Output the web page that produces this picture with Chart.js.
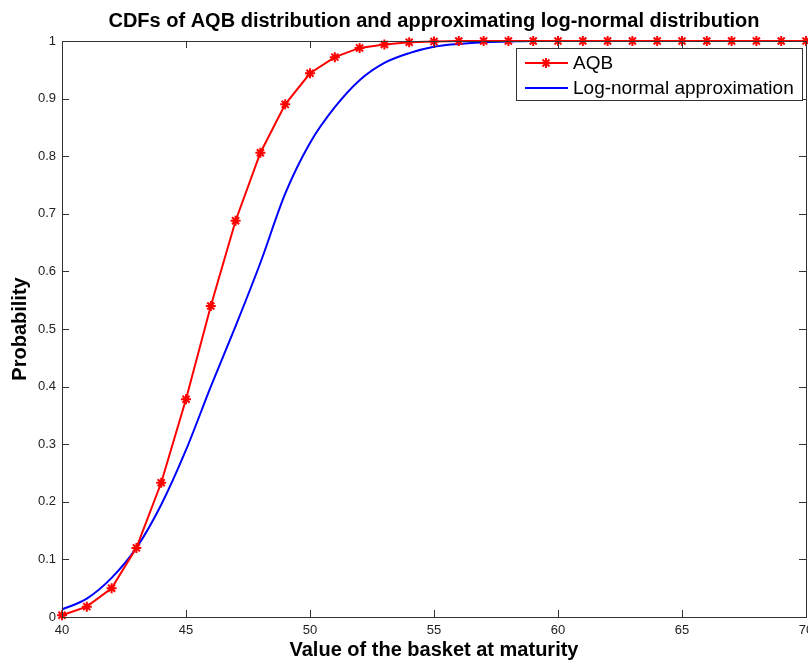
<!DOCTYPE html>
<html>
<head>
<meta charset="utf-8">
<script src="https://cdn.jsdelivr.net/npm/chart.js@4.4.1/dist/chart.umd.min.js"></script>
<style>
  html, body { margin: 0; padding: 0; background: #fff; }
  #wrap { width: 808px; height: 662px; }
</style>
</head>
<body>
<div id="wrap"><canvas id="cdfChart" width="808" height="662"></canvas></div>
<script>
// basket values at maturity (x)
const basketValues = [40, 41, 42, 43, 44, 45, 46, 47, 48, 49, 50, 51, 52, 53, 54, 55,
    56, 57, 58, 59, 60, 61, 62, 63, 64, 65, 66, 67, 68, 69, 70];

// AQB cdf
const aqbCdf = [0.003, 0.018, 0.05, 0.12, 0.233, 0.378, 0.54, 0.688, 0.806, 0.89, 0.944,
    0.972, 0.988, 0.994, 0.998, 0.999, 1, 1, 1, 1, 1, 1, 1, 1, 1, 1, 1, 1, 1, 1, 1];

// log-normal approximation cdf
const logNormalCdf = [0.013, 0.032, 0.068, 0.12, 0.195, 0.29, 0.4, 0.505, 0.615, 0.735, 0.823,
    0.885, 0.932, 0.962, 0.979, 0.99, 0.995, 0.998, 0.999, 1, 1, 1, 1, 1, 1, 1, 1, 1, 1, 1, 1];

const xTicks = [40, 45, 50, 55, 60, 65, 70];
const yTicks = [0, 0.1, 0.2, 0.3, 0.4, 0.5, 0.6, 0.7, 0.8, 0.9, 1];

const axisColor = '#333333';
const fontFamily = 'Liberation Sans, Arial, sans-serif';
const labelFont = { family: fontFamily, size: 13 };

function toPoints(values) {
    return basketValues.map((x, i) => ({ x: x, y: values[i] }));
}

// MATLAB style box with inward ticks
const boxPlugin = {
    id: 'boxPlugin',
    afterDraw(chart) {
        const ctx = chart.ctx;
        const area = chart.chartArea;
        const xs = chart.scales.x;
        const ys = chart.scales.y;
        ctx.save();
        ctx.strokeStyle = axisColor;
        ctx.lineWidth = 1;
        ctx.beginPath();
        xTicks.forEach(v => {
            const px = Math.round(xs.getPixelForValue(v)) + 0.5;
            ctx.moveTo(px, area.bottom); ctx.lineTo(px, area.bottom - 7);
            ctx.moveTo(px, area.top); ctx.lineTo(px, area.top + 7);
        });
        yTicks.forEach(v => {
            const py = Math.round(ys.getPixelForValue(v)) + 0.5;
            ctx.moveTo(area.left, py); ctx.lineTo(area.left + 7, py);
            ctx.moveTo(area.right, py); ctx.lineTo(area.right - 7, py);
        });
        ctx.stroke();
        ctx.strokeRect(Math.round(area.left) + 0.5, Math.round(area.top) + 0.5,
            Math.round(area.right - area.left), Math.round(area.bottom - area.top));
        ctx.restore();
    }
};

// legend box in the top right corner of the plot
const legendBoxPlugin = {
    id: 'legendBox',
    afterDraw(chart) {
        const ctx = chart.ctx;
        const area = chart.chartArea;
        const w = 286, h = 52;
        const x0 = Math.round(area.right) - w - 4;
        const y0 = Math.round(area.top) + 7;
        ctx.save();
        ctx.fillStyle = '#fff';
        ctx.fillRect(x0, y0, w, h);
        ctx.strokeStyle = axisColor;
        ctx.lineWidth = 1;
        ctx.strokeRect(x0 + 0.5, y0 + 0.5, w, h);
        ctx.font = '19px ' + fontFamily;
        ctx.textBaseline = 'middle';
        chart.data.datasets.forEach((ds, i) => {
            const cy = y0 + 15 + i * 25;
            ctx.strokeStyle = ds.borderColor;
            ctx.lineWidth = 2;
            ctx.beginPath();
            ctx.moveTo(x0 + 9, cy);
            ctx.lineTo(x0 + 52, cy);
            ctx.stroke();
            if (ds.pointRadius > 0) {
                ctx.beginPath();
                const cx = x0 + 30;
                for (let k = 0; k < 4; k++) {
                    const a = k * Math.PI / 4;
                    ctx.moveTo(cx - 5 * Math.cos(a), cy - 5 * Math.sin(a));
                    ctx.lineTo(cx + 5 * Math.cos(a), cy + 5 * Math.sin(a));
                }
                ctx.stroke();
            }
            ctx.fillStyle = '#000';
            ctx.fillText(ds.label, x0 + 57, cy + 1);
        });
        ctx.restore();
    }
};

new Chart(document.getElementById('cdfChart'), {
    type: 'line',
    data: {
        datasets: [
            {
                label: 'AQB',
                data: toPoints(aqbCdf),
                borderColor: '#ff0000',
                backgroundColor: '#ff0000',
                borderWidth: 2,
                pointStyle: 'star',
                pointRadius: 5,
                pointBorderWidth: 2,
                order: 0
            },
            {
                label: 'Log-normal approximation',
                data: toPoints(logNormalCdf),
                borderColor: '#0000ff',
                backgroundColor: '#0000ff',
                borderWidth: 2,
                pointRadius: 0,
                cubicInterpolationMode: 'monotone',
                order: 1
            }
        ]
    },
    options: {
        responsive: false,
        animation: false,
        clip: false,
        layout: { autoPadding: false, padding: { right: 2 } },
        plugins: {
            legend: { display: false },
            tooltip: { enabled: false },
            title: {
                display: true,
                fullSize: false,
                text: 'CDFs of AQB distribution and approximating log-normal distribution',
                color: '#000',
                font: { family: fontFamily, size: 20, weight: 'bold' },
                padding: { top: 9, bottom: 8 }
            }
        },
        scales: {
            x: {
                type: 'linear',
                min: 40,
                max: 70,
                afterBuildTicks: axis => { axis.ticks = xTicks.map(v => ({ value: v })); },
                afterFit: axis => {
                    axis.height = 45;
                    axis.paddingLeft = 0;
                    axis.paddingRight = 0;
                },
                grid: { drawOnChartArea: false, drawTicks: false },
                border: { display: false },
                ticks: { color: '#222', font: labelFont, padding: 6, maxRotation: 0 },
                title: {
                    display: true,
                    text: 'Value of the basket at maturity',
                    color: '#000',
                    font: { family: fontFamily, size: 20, weight: 'bold' },
                    padding: { top: 0, bottom: 0 }
                }
            },
            y: {
                min: 0,
                max: 1,
                afterBuildTicks: axis => { axis.ticks = yTicks.map(v => ({ value: v })); },
                afterFit: axis => {
                    axis.width = 62;
                    axis.paddingTop = 0;
                    axis.paddingBottom = 0;
                },
                grid: { drawOnChartArea: false, drawTicks: false },
                border: { display: false },
                ticks: {
                    color: '#222',
                    font: labelFont,
                    padding: 6,
                    callback: v => String(+v.toFixed(1))
                },
                title: {
                    display: true,
                    text: 'Probability',
                    color: '#000',
                    font: { family: fontFamily, size: 20, weight: 'bold' },
                    padding: { top: 8, bottom: 0 }
                }
            }
        }
    },
    plugins: [boxPlugin, legendBoxPlugin]
});
</script>
</body>
</html>
